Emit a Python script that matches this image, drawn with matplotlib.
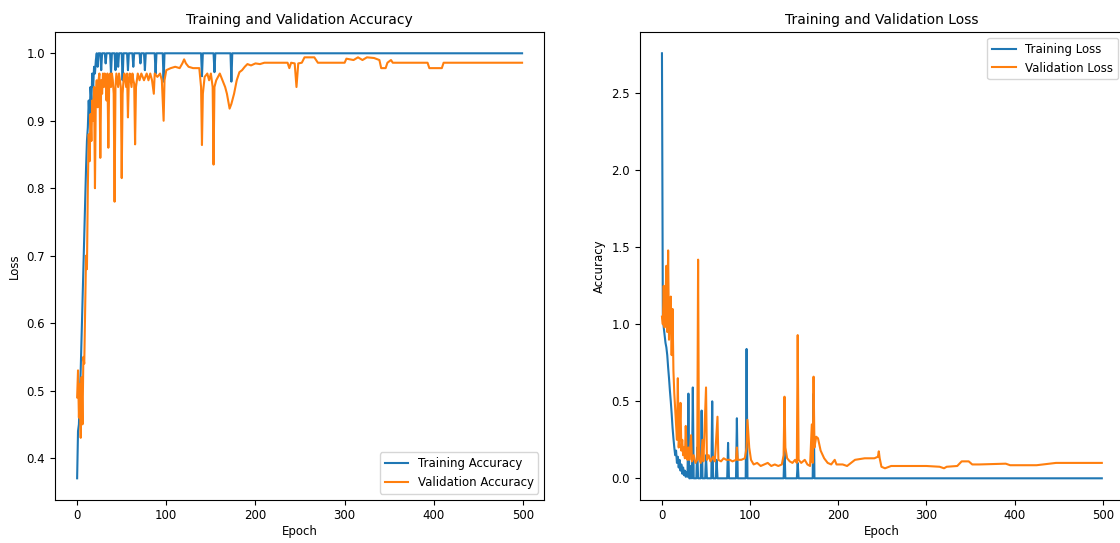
import numpy as np
import matplotlib
matplotlib.use("Agg")
import matplotlib.pyplot as plt

# ---- data (epoch, value) keypoints ----
# training accuracy: ramp-up then plateau at 1.0 with short dips
tr_acc_ramp_epochs = [0, 1, 2, 3, 4, 5, 6, 7, 8, 9, 10, 11, 12, 13, 14, 15, 16, 17, 18, 19, 20, 21, 22, 23, 24]
tr_acc_ramp_values = [0.37, 0.44, 0.45, 0.49, 0.53, 0.58, 0.63, 0.68, 0.73, 0.78, 0.83, 0.87, 0.89, 0.93,
                      0.90, 0.95, 0.93, 0.97, 0.95, 0.98, 0.97, 0.99, 1.0, 0.98, 1.0]
tr_acc_dip_epochs = [27, 32, 38, 43, 46, 51, 57, 63, 71, 76, 88, 97, 140, 154, 173]
tr_acc_dip_values = [0.975, 0.985, 0.97, 0.975, 0.98, 0.96, 0.975, 0.98, 0.985, 0.975, 0.97, 0.958, 0.966, 0.972, 0.958]

val_acc_epochs = [0, 1, 2, 3, 4, 5, 6, 7, 8, 9, 10, 11, 12, 13, 14, 15, 16, 17, 18, 19, 20, 21, 22, 23, 24,
                  25, 26, 27, 28, 29, 30, 31, 32, 33, 34, 35, 36, 37, 38, 39, 40, 41, 42, 43, 44, 45, 46,
                  47, 48, 49, 50, 51, 52, 53, 54, 55, 56, 57, 58, 59, 60, 61, 62, 63, 64, 65, 66, 67, 68,
                  70, 72, 75, 78, 80, 82, 84, 86, 87, 90, 93, 95, 97, 98, 100, 105, 110, 115, 118, 120,
                  122, 125, 130, 137, 139, 140, 141, 143, 146, 148, 150, 152, 153, 154, 156, 158, 160,
                  163, 166, 168, 170, 171, 173, 176, 179, 182, 185, 188, 191, 195, 200, 205, 210, 236,
                  238, 240, 244, 246, 248, 252, 255, 266, 270, 300, 302, 310, 315, 320, 325, 333, 339,
                  341, 346, 348, 352, 354, 393, 395, 409, 411, 499]
val_acc_values = [0.49, 0.53, 0.46, 0.51, 0.43, 0.52, 0.45, 0.55, 0.54, 0.62, 0.70, 0.68, 0.80, 0.88, 0.84,
                  0.91, 0.87, 0.93, 0.90, 0.95, 0.80, 0.94, 0.96, 0.92, 0.96, 0.97, 0.845, 0.96, 0.94,
                  0.97, 0.95, 0.97, 0.96, 0.93, 0.97, 0.86, 0.96, 0.97, 0.95, 0.97, 0.96, 0.94, 0.78,
                  0.95, 0.97, 0.96, 0.95, 0.97, 0.96, 0.95, 0.815, 0.94, 0.96, 0.97, 0.96, 0.95, 0.97,
                  0.905, 0.96, 0.97, 0.96, 0.95, 0.97, 0.96, 0.955, 0.865, 0.95, 0.96, 0.97, 0.96, 0.97,
                  0.96, 0.97, 0.96, 0.97, 0.96, 0.94, 0.97, 0.965, 0.97, 0.96, 0.90, 0.96, 0.975, 0.978,
                  0.98, 0.978, 0.985, 0.991, 0.985, 0.98, 0.978, 0.978, 0.95, 0.864, 0.94, 0.965, 0.97,
                  0.96, 0.97, 0.95, 0.835, 0.95, 0.96, 0.965, 0.97, 0.96, 0.95, 0.94, 0.925, 0.918,
                  0.925, 0.94, 0.96, 0.972, 0.975, 0.98, 0.984, 0.982, 0.985, 0.984, 0.986, 0.986,
                  0.978, 0.986, 0.985, 0.95, 0.985, 0.986, 0.994, 0.994, 0.986, 0.986, 0.992, 0.99,
                  0.994, 0.99, 0.994, 0.993, 0.99, 0.978, 0.978, 0.986, 0.99, 0.986, 0.986, 0.978,
                  0.978, 0.986, 0.986]

# training loss: fast drop then ~0 with spikes
tr_loss_drop_epochs = [0, 1, 2, 3, 4, 5, 6, 7, 8, 9, 10, 11, 12, 13, 14, 15, 16, 17, 18, 19, 20, 21, 22,
                       23, 24, 25, 26, 27, 28, 29]
tr_loss_drop_values = [2.76, 1.05, 0.98, 0.93, 0.88, 0.85, 0.80, 0.72, 0.65, 0.57, 0.50, 0.42, 0.33, 0.26,
                       0.20, 0.15, 0.18, 0.10, 0.14, 0.07, 0.12, 0.05, 0.09, 0.03, 0.07, 0.02, 0.05,
                       0.01, 0.04, 0.01]
tr_loss_spike_epochs = [30, 33, 35, 40, 45, 50, 57, 62, 75, 85, 96, 139, 154, 172]
tr_loss_spike_values = [0.55, 0.08, 0.59, 0.20, 0.44, 0.15, 0.50, 0.12, 0.23, 0.39, 0.84, 0.20, 0.10, 0.55]

val_loss_epochs = [0, 1, 2, 3, 4, 5, 6, 7, 8, 9, 10, 11, 12, 13, 14, 15, 16, 17, 18, 19, 20, 21, 22, 23,
                   24, 25, 26, 27, 28, 29, 30, 31, 33, 34, 36, 38, 40, 41, 42, 44, 46, 47, 50, 51, 53,
                   55, 58, 60, 63, 64, 67, 70, 73, 77, 80, 84, 85, 86, 90, 94, 96, 97, 99, 101, 104,
                   108, 112, 116, 120, 124, 128, 132, 136, 138, 139, 140, 142, 145, 148, 151, 153, 154,
                   155, 158, 162, 165, 168, 170, 171, 172, 173, 175, 177, 180, 184, 188, 192, 196, 198,
                   205, 210, 219, 230, 241, 245, 246, 247, 249, 253, 260, 280, 300, 315, 320, 323, 335,
                   340, 348, 352, 360, 390, 395, 425, 447, 499]
val_loss_values = [1.05, 1.0, 1.25, 0.98, 1.15, 1.38, 0.95, 1.48, 0.9, 1.05, 1.18, 0.8, 1.1, 0.7, 0.55,
                   0.45, 0.35, 0.25, 0.65, 0.2, 0.3, 0.49, 0.18, 0.25, 0.15, 0.2, 0.13, 0.34, 0.15, 0.12,
                   0.2, 0.12, 0.28, 0.11, 0.15, 0.1, 0.12, 1.42, 0.13, 0.1, 0.25, 0.11, 0.59, 0.12, 0.15,
                   0.11, 0.14, 0.11, 0.40, 0.12, 0.11, 0.13, 0.12, 0.12, 0.11, 0.12, 0.2, 0.12, 0.12,
                   0.13, 0.2, 0.38, 0.2, 0.12, 0.09, 0.1, 0.08, 0.09, 0.1, 0.08, 0.09, 0.08, 0.09, 0.15,
                   0.53, 0.2, 0.13, 0.11, 0.1, 0.12, 0.1, 0.93, 0.12, 0.1, 0.12, 0.09, 0.08, 0.35, 0.1,
                   0.66, 0.2, 0.27, 0.26, 0.18, 0.13, 0.1, 0.09, 0.12, 0.09, 0.09, 0.08, 0.12, 0.13,
                   0.13, 0.14, 0.175, 0.13, 0.075, 0.065, 0.08, 0.08, 0.08, 0.075, 0.065, 0.075, 0.08,
                   0.11, 0.11, 0.09, 0.09, 0.095, 0.085, 0.085, 0.1, 0.1]

last_epoch = 499


def with_spikes(start_epochs, start_values, spike_epochs, spike_values, base):
    # ramp keypoints, then flat base with one-epoch spikes/dips
    xs = list(start_epochs)
    ys = list(start_values)
    for e, v in zip(spike_epochs, spike_values):
        if e - 1 > xs[-1]:
            xs.append(e - 1)
            ys.append(base)
        xs.append(e)
        ys.append(v)
        xs.append(e + 1)
        ys.append(base)
    xs.append(last_epoch)
    ys.append(base)
    return xs, ys


tr_acc_x, tr_acc_y = with_spikes(tr_acc_ramp_epochs, tr_acc_ramp_values,
                                 tr_acc_dip_epochs, tr_acc_dip_values, 1.0)
tr_loss_x, tr_loss_y = with_spikes(tr_loss_drop_epochs, tr_loss_drop_values,
                                   tr_loss_spike_epochs, tr_loss_spike_values, 0.0)

fig = plt.figure(figsize=(11.2, 5.43), dpi=100)
ax1 = fig.add_axes([0.049, 0.08, 0.437, 0.861])
ax2 = fig.add_axes([0.5714, 0.08, 0.432, 0.861])

fs = 8.5
lw = 1.5
ax1.plot(tr_acc_x, tr_acc_y, color='tab:blue', lw=lw, label='Training Accuracy')
ax1.plot(val_acc_epochs, val_acc_values, color='tab:orange', lw=lw, label='Validation Accuracy')
ax1.set_title('Training and Validation Accuracy', fontsize=10)
ax1.set_xlabel('Epoch', fontsize=fs, labelpad=2)
ax1.set_ylabel('Loss', fontsize=fs)
ax1.legend(loc='lower right', fontsize=fs)
ax1.tick_params(labelsize=fs)

ax2.plot(tr_loss_x, tr_loss_y, color='tab:blue', lw=lw, label='Training Loss')
ax2.plot(val_loss_epochs, val_loss_values, color='tab:orange', lw=lw, label='Validation Loss')
ax2.set_title('Training and Validation Loss', fontsize=10)
ax2.set_xlabel('Epoch', fontsize=fs, labelpad=2)
ax2.set_ylabel('Accuracy', fontsize=fs)
ax2.legend(loc='upper right', fontsize=fs)
ax2.tick_params(labelsize=fs)

fig.savefig('out.png', dpi=100)
